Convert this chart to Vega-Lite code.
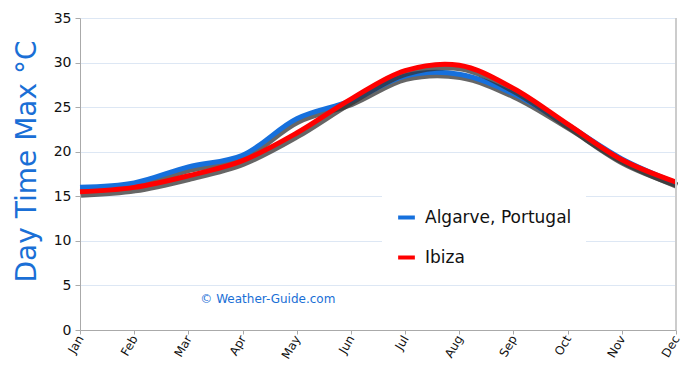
{
  "$schema": "https://vega.github.io/schema/vega-lite/v6.json",
  "width": 596,
  "height": 312,
  "autosize": "none",
  "padding": {"left": 80, "top": 18, "right": 14, "bottom": 45},
  "background": "white",
  "config": {
    "view": {"stroke": null},
    "font": "DejaVu Sans",
    "axis": {
      "labelFont": "DejaVu Sans",
      "labelColor": "#111",
      "domainColor": "#aaaaaa",
      "tickColor": "#aaaaaa",
      "gridColor": "#dde7f4"
    }
  },
  "data": {
    "values": [
      {"month": "Jan", "place": "Algarve, Portugal", "temp": 16.0},
      {"month": "Feb", "place": "Algarve, Portugal", "temp": 16.5},
      {"month": "Mar", "place": "Algarve, Portugal", "temp": 18.3},
      {"month": "Apr", "place": "Algarve, Portugal", "temp": 19.6},
      {"month": "May", "place": "Algarve, Portugal", "temp": 23.7},
      {"month": "Jun", "place": "Algarve, Portugal", "temp": 25.7},
      {"month": "Jul", "place": "Algarve, Portugal", "temp": 28.5},
      {"month": "Aug", "place": "Algarve, Portugal", "temp": 28.7},
      {"month": "Sep", "place": "Algarve, Portugal", "temp": 26.5},
      {"month": "Oct", "place": "Algarve, Portugal", "temp": 23.0},
      {"month": "Nov", "place": "Algarve, Portugal", "temp": 19.2},
      {"month": "Dec", "place": "Algarve, Portugal", "temp": 16.5},
      {"month": "Jan", "place": "Ibiza", "temp": 15.5},
      {"month": "Feb", "place": "Ibiza", "temp": 16.0},
      {"month": "Mar", "place": "Ibiza", "temp": 17.3},
      {"month": "Apr", "place": "Ibiza", "temp": 19.0},
      {"month": "May", "place": "Ibiza", "temp": 22.1},
      {"month": "Jun", "place": "Ibiza", "temp": 25.9},
      {"month": "Jul", "place": "Ibiza", "temp": 29.1},
      {"month": "Aug", "place": "Ibiza", "temp": 29.7},
      {"month": "Sep", "place": "Ibiza", "temp": 27.1},
      {"month": "Oct", "place": "Ibiza", "temp": 23.1},
      {"month": "Nov", "place": "Ibiza", "temp": 19.1},
      {"month": "Dec", "place": "Ibiza", "temp": 16.6}
    ]
  },
  "encoding": {
    "x": {
      "field": "month",
      "type": "ordinal",
      "scale": {"type": "point", "padding": 0, "domain": ["Jan","Feb","Mar","Apr","May","Jun","Jul","Aug","Sep","Oct","Nov","Dec"]},
      "axis": {
        "title": null,
        "labelAngle": -60,
        "labelAlign": "right",
        "labelBaseline": "middle",
        "labelFontSize": 12,
        "tickSize": 4,
        "grid": false,
        "labelPadding": 2
      }
    },
    "y": {
      "field": "temp",
      "type": "quantitative",
      "scale": {"domain": [0, 35]},
      "axis": {
        "title": "Day Time Max °C",
        "titleColor": "#1a6fd6",
        "titleFontSize": 28,
        "titleFontWeight": "normal",
        "titleFont": "DejaVu Sans",
        "titlePadding": 12,
        "titleY": 143,
        "values": [0,5,10,15,20,25,30,35],
        "labelFontSize": 14,
        "tickSize": 5,
        "labelPadding": 4,
        "grid": true
      }
    }
  },
  "layer": [
    {
      "transform": [{"filter": "datum.place === 'Algarve, Portugal'"}],
      "mark": {"type": "line", "interpolate": "catmull-rom", "color": "#333333", "opacity": 0.75, "strokeWidth": 6, "yOffset": 3, "xOffset": 1}
    },
    {
      "transform": [{"filter": "datum.place === 'Algarve, Portugal'"}],
      "mark": {"type": "line", "interpolate": "catmull-rom", "strokeWidth": 5},
      "encoding": {
        "color": {
          "field": "place",
          "type": "nominal",
          "scale": {"domain": ["Algarve, Portugal", "Ibiza"], "range": ["#1670dd", "#ff0000"]},
          "legend": {
            "title": null,
            "orient": "none",
            "legendX": 302,
            "legendY": 175,
            "padding": 14,
            "fillColor": "white",
            "symbolType": "stroke",
            "symbolStrokeWidth": 4,
            "symbolSize": 280,
            "labelFontSize": 17,
            "labelLimit": 300,
            "labelColor": "#111",
            "labelFont": "DejaVu Sans",
            "labelOffset": 8,
            "rowPadding": 21,
            "offset": 0
          }
        }
      }
    },
    {
      "transform": [{"filter": "datum.place === 'Ibiza'"}],
      "mark": {"type": "line", "interpolate": "catmull-rom", "color": "#333333", "opacity": 0.75, "strokeWidth": 6, "yOffset": 3, "xOffset": 1}
    },
    {
      "transform": [{"filter": "datum.place === 'Ibiza'"}],
      "mark": {"type": "line", "interpolate": "catmull-rom", "strokeWidth": 5},
      "encoding": {
        "color": {"field": "place", "type": "nominal"}
      }
    },
    {
      "data": {"values": [{"edge": "Dec"}]},
      "mark": {"type": "rule", "color": "#cccccc", "strokeWidth": 2},
      "encoding": {"x": {"field": "edge", "type": "ordinal"}, "y": null}
    },
    {
      "data": {"values": [{"label": "©  Weather-Guide.com", "m": "Mar", "v": 3.5}]},
      "mark": {"type": "text", "align": "left", "baseline": "middle", "dx": 12, "fontSize": 12, "color": "#1a6fd6", "font": "DejaVu Sans"},
      "encoding": {
        "x": {"field": "m", "type": "ordinal"},
        "y": {"field": "v", "type": "quantitative"},
        "text": {"field": "label"}
      }
    }
  ]
}
